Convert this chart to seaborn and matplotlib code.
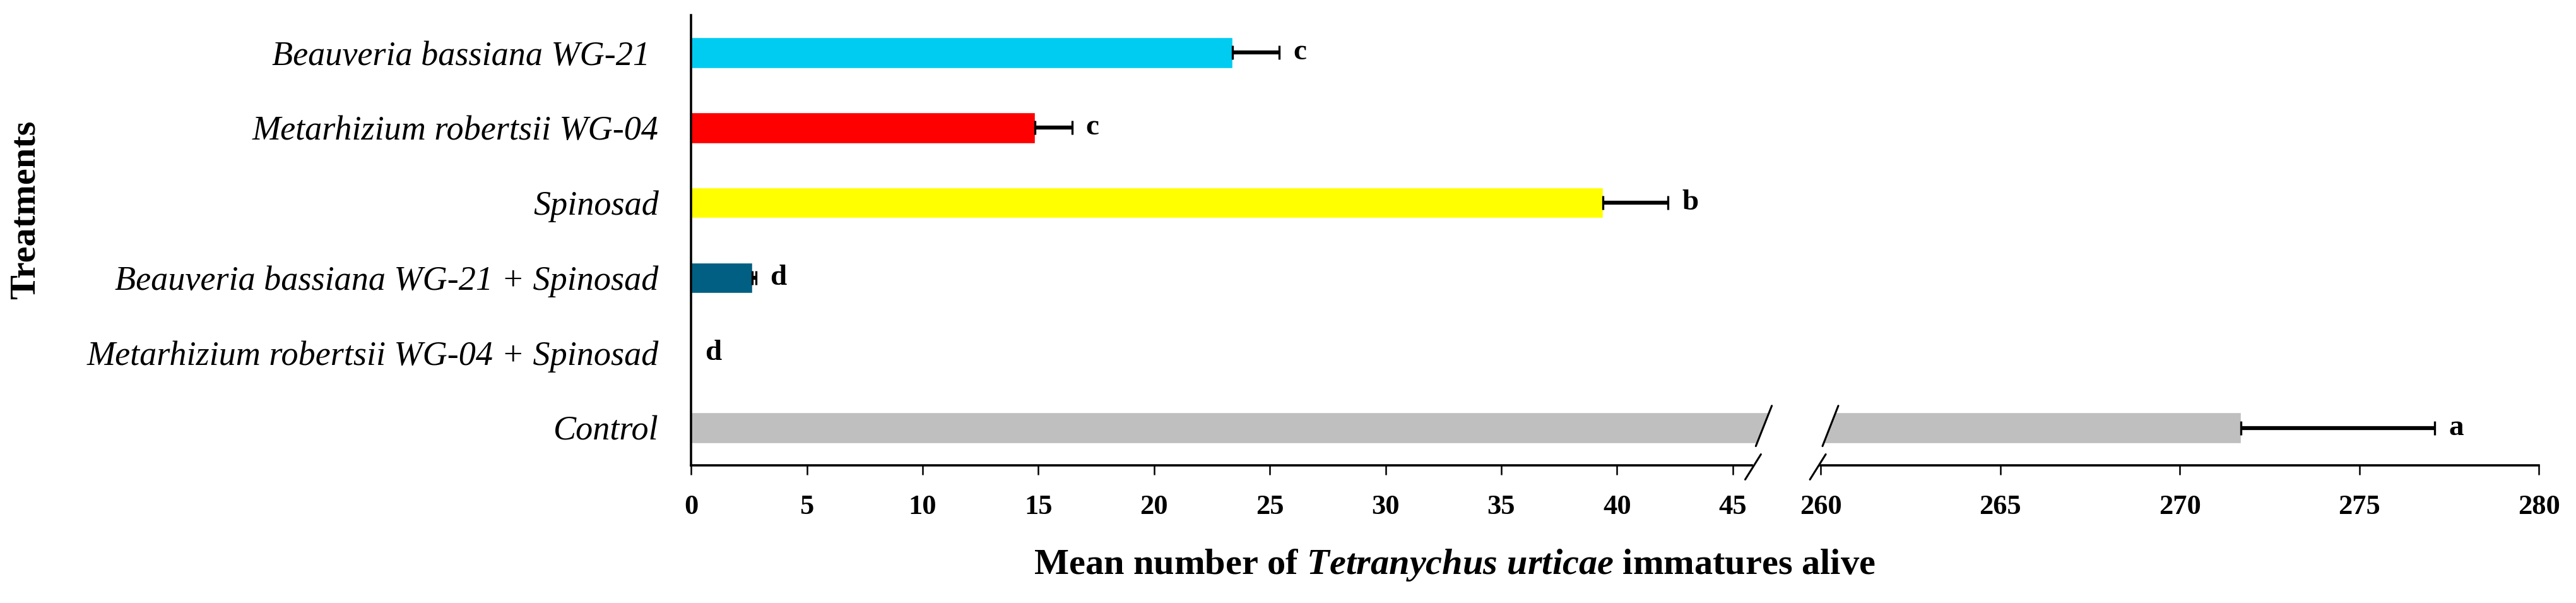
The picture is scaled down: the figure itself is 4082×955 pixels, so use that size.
import matplotlib
matplotlib.use('Agg')
import numpy as np
import pandas as pd
import matplotlib.pyplot as plt
import seaborn as sns

# Данные
treatments = ['Beauveria bassiana WG-21 ', 'Metarhizium robertsii WG-04', 'Spinosad',
              'Beauveria bassiana WG-21 + Spinosad', 'Metarhizium robertsii WG-04 + Spinosad',
              'Control']
means = [23.4, 14.85, 39.4, 2.65, 0.0, 271.7]
errors = [2.0, 1.6, 2.8, 0.16, 0.0, 5.4]
letters = ['c', 'c', 'b', 'd', 'd', 'a']
colors = ['#00CCF2', '#FF0000', '#FFFF00', '#005F82', '#FFFFFF', '#BFBFBF']
left_ticks = [0, 5, 10, 15, 20, 25, 30, 35, 40, 45]
right_ticks = [260, 265, 270, 275, 280]

sns.set_theme(style='white')
plt.rcParams['font.family'] = ['Liberation Serif', 'DejaVu Serif']
plt.rcParams['mathtext.fontset'] = 'custom'
plt.rcParams['mathtext.it'] = 'Liberation Serif:italic:bold'
plt.rcParams['mathtext.rm'] = 'Liberation Serif:bold'
for key in ['text.color', 'axes.labelcolor', 'xtick.color', 'ytick.color', 'axes.edgecolor']:
    plt.rcParams[key] = 'black'

df = pd.DataFrame({'Treatment': treatments, 'Mean': means})

fig = plt.figure(figsize=(40.82, 9.55), dpi=100)
ax1 = fig.add_axes([0.2683, 0.2283, 0.4214, 0.7466])
ax2 = fig.add_axes([0.7068, 0.2283, 0.2788, 0.7466])

for ax in (ax1, ax2):
    sns.barplot(data=df, x='Mean', y='Treatment', hue='Treatment', palette=colors,
                width=0.41, saturation=1, legend=False, errorbar=None, orient='h', ax=ax)

# Планки погрешностей (только вправо)
ypos = np.arange(len(treatments))
m = np.array(means)
e = np.array(errors)
has_err = e > 0
for ax in (ax1, ax2):
    ax.errorbar(m[has_err], ypos[has_err], xerr=[np.zeros(has_err.sum()), e[has_err]],
                fmt='none', ecolor='black', elinewidth=4.5, capsize=8, capthick=2.4, zorder=3)

ax1.set_xlim(0, 46.9)
ax2.set_xlim(260, 280)
for ax in (ax1, ax2):
    ax.set_ylim(len(treatments) - 0.5, -0.5)

# Буквы значимости
for i, (mv, ev, lt) in enumerate(zip(means, errors, letters)):
    ax = ax1 if mv + ev < 46 else ax2
    ax.annotate(lt, xy=(mv + ev, i), xytext=(16, 0), textcoords='offset points',
                ha='left', va='center', fontsize=34, fontweight='bold', color='black')

# Оформление осей
for ax in (ax1, ax2):
    ax.spines['top'].set_visible(False)
    ax.spines['right'].set_visible(False)
    ax.spines['bottom'].set_linewidth(2.6)
    ax.spines['bottom'].set_color('black')
    ax.tick_params(axis='x', direction='out', length=11, width=1.8, pad=22,
                   bottom=True, color='black', labelcolor='black')
    ax.set_xlabel('')
    ax.set_ylabel('')

ax1.spines['left'].set_linewidth(2.6)
ax1.spines['left'].set_color('black')
ax1.spines['bottom'].set_bounds(0, 45.83)
ax1.set_xticks(left_ticks, labels=[str(t) for t in left_ticks], fontsize=32, fontweight='bold')
ax1.set_yticks(ypos, labels=treatments, fontsize=39, fontstyle='italic')
ax1.tick_params(axis='y', length=0, pad=37, labelcolor='black')

ax2.spines['left'].set_visible(False)
ax2.spines['bottom'].set_bounds(260, 280)
ax2.set_xticks(right_ticks, labels=[str(t) for t in right_ticks], fontsize=32, fontweight='bold')
ax2.set_yticks([])

# Разрыв оси: белые вырезы и косые штрихи
ax1.fill([46.0, 46.69, 48.0, 48.0], [5.244, 4.706, 4.706, 5.244], color='white', zorder=4)
ax1.plot([46.0, 46.69], [5.244, 4.706], color='black', lw=2.2, clip_on=False, zorder=5)
ax1.plot([45.54, 46.22], [5.689, 5.353], color='black', lw=2.2, clip_on=False, zorder=5)
ax2.fill([259.5, 260.05, 260.49, 259.5], [5.244, 5.244, 4.706, 4.706], color='white', zorder=4)
ax2.plot([260.05, 260.49], [5.244, 4.706], color='black', lw=2.2, clip_on=False, zorder=5)
ax2.plot([259.70, 260.14], [5.689, 5.353], color='black', lw=2.2, clip_on=False, zorder=5)

# Подписи осей
fig.text(41 / 4082, 0.652, 'Treatments', rotation=90, ha='center', va='center',
         fontsize=42, fontweight='bold', color='black')
fig.text(2305 / 4082, 1 - 895 / 955,
         r'Mean number of $\mathit{Tetranychus\ urticae}$ immatures alive',
         ha='center', va='center', fontsize=42, fontweight='bold', color='black')

fig.savefig('out.png', dpi=100)
